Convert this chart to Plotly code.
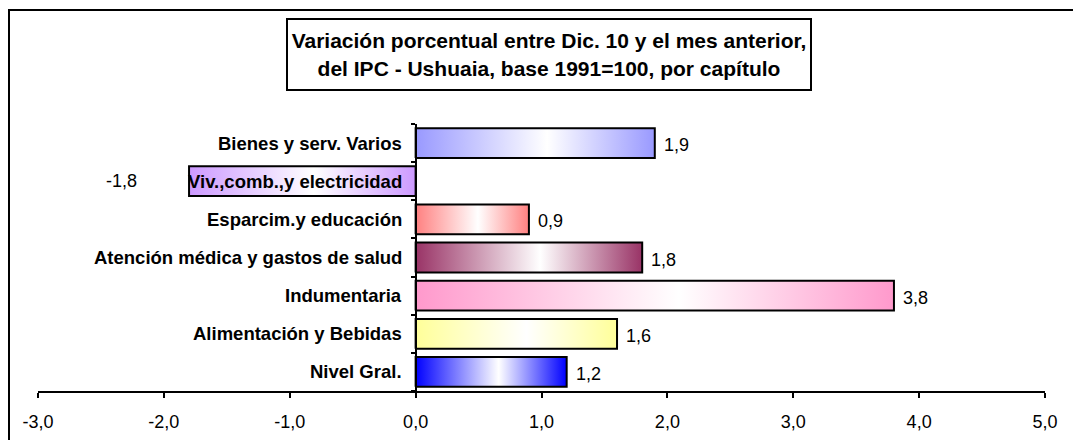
import plotly.graph_objects as go

categories = ["Nivel Gral.", "Alimentación y Bebidas", "Indumentaria",
              "Atención médica y gastos de salud", "Esparcim.y educación",
              "Viv.,comb.,y electricidad", "Bienes y serv. Varios"]
values = [1.2, 1.6, 3.8, 1.8, 0.9, -1.8, 1.9]
colors = ["#0000FF", "#FFFF99", "#FF99CC", "#993366", "#FF8080", "#CC99FF", "#9999FF"]
x_ticks = [-3, -2, -1, 0, 1, 2, 3, 4, 5]

title = "Variación porcentual entre Dic. 10 y el mes anterior,<br>del IPC - Ushuaia, base 1991=100, por capítulo"

half = 0.39  # half bar thickness in category units
font = "Liberation Sans, Arial, sans-serif"


def fmt(v):
    return ("%.1f" % v).replace(".", ",")


fig = go.Figure()

for i, (cat, v, c) in enumerate(zip(categories, values, colors)):
    fig.add_trace(go.Scatter(
        x=[0, v, v, 0, 0],
        y=[i - half, i - half, i + half, i + half, i - half],
        mode="lines",
        fill="toself",
        fillgradient=dict(type="horizontal",
                          colorscale=[[0, c], [0.55, "#FFFFFF"], [1, c]]),
        line=dict(color="black", width=2),
        hoverinfo="skip",
        showlegend=False,
    ))

annotations = []
for i, (cat, v) in enumerate(zip(categories, values)):
    annotations.append(dict(
        x=0, y=i, xref="x", yref="y", text="<b>%s</b>" % cat,
        showarrow=False, xanchor="right", xshift=-12,
        font=dict(family=font, size=18.5, color="black")))
    if v >= 0:
        annotations.append(dict(
            x=v, y=i, xref="x", yref="y", text=fmt(v), showarrow=False,
            xanchor="left", xshift=7, yshift=-2,
            font=dict(family=font, size=18, color="black")))
    else:
        annotations.append(dict(
            x=-2.34, y=i, xref="x", yref="y", text=fmt(v), showarrow=False,
            xanchor="center",
            font=dict(family=font, size=18, color="black")))

annotations.append(dict(
    x=0.5075, y=1.26, xref="paper", yref="paper", text="<b>%s</b>" % title,
    showarrow=False, xanchor="center", yanchor="middle",
    width=518, height=65,
    bordercolor="black", borderwidth=2, borderpad=2, bgcolor="white",
    font=dict(family=font, size=21, color="black")))

# the page body adds 8px around the figure, so size and margins allow for it
fig.update_layout(
    width=1065, height=432,
    margin=dict(l=30, r=28, t=116, b=49),
    paper_bgcolor="white", plot_bgcolor="white",
    font=dict(family=font, size=18, color="black"),
    annotations=annotations,
    xaxis=dict(range=[-3, 5], tickvals=x_ticks, ticktext=[fmt(t) for t in x_ticks],
               showline=True, linecolor="black", linewidth=2,
               ticks="outside", ticklen=5, tickwidth=2, tickcolor="black",
               ticklabelstandoff=8, automargin=False,
               showgrid=False, zeroline=False,
               tickfont=dict(family=font, size=18, color="black")),
    yaxis=dict(range=[-0.5, 6.5], anchor="free", position=0.375,
               tickvals=[i - 0.5 for i in range(len(categories) + 1)],
               showticklabels=False, automargin=False,
               showline=True, linecolor="black", linewidth=2,
               ticks="outside", ticklen=4, tickwidth=2, tickcolor="black",
               showgrid=False, zeroline=False),
    shapes=[dict(type="rect", xref="paper", yref="paper",
                 x0=-0.0288, x1=1.06, y0=-0.3, y1=1.427,
                 line=dict(color="black", width=2), layer="below")],
)

fig.write_html("out.html")
